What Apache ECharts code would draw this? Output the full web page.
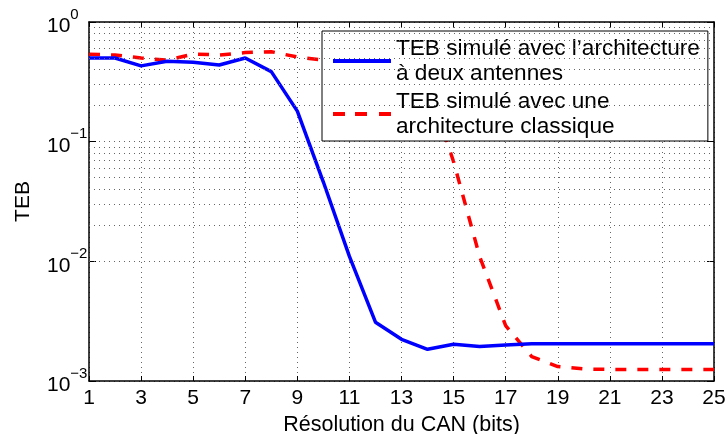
<!DOCTYPE html>
<html>
<head>
<meta charset="utf-8">
<script src="https://cdn.jsdelivr.net/npm/echarts@6/dist/echarts.min.js"></script>
<style>
  html, body { margin: 0; padding: 0; background: #fff; }
  #chart { width: 727px; height: 434px; }
</style>
</head>
<body>
<div id="chart"></div>
<script>
// ADC resolution (bits)
const resolution = [1, 2, 3, 4, 5, 6, 7, 8, 9, 10, 11, 12, 13, 14, 15, 16, 17, 18, 19, 20, 21, 22, 23, 24, 25];

// Simulated BER, two-antenna architecture
const tebDeuxAntennes = [0.50, 0.50, 0.43, 0.47, 0.46, 0.437, 0.50, 0.385, 0.18, 0.046, 0.011, 0.0031,
  0.00223, 0.00184, 0.00203, 0.00194, 0.0020, 0.00205, 0.00205, 0.00205, 0.00205, 0.00205, 0.00205, 0.00205, 0.00205];

// Simulated BER, classic architecture
const tebClassique = [0.537, 0.53, 0.50, 0.48, 0.54, 0.53, 0.555, 0.565, 0.51, 0.48, 0.47, 0.45,
  0.41, 0.31, 0.068, 0.011, 0.0029, 0.0016, 0.00132, 0.00126, 0.00125, 0.00125, 0.00125, 0.00125, 0.00125];

const seriesNames = ["TEB simulé avec l’architecture\nà deux antennes", "TEB simulé avec une\narchitecture classique"];

// Decade labels and intermediate (2..9) grid levels for the log axis
const decades = [0.001, 0.01, 0.1, 1];
const minorLevels = [];
for (let d = 0; d < decades.length - 1; d++) {
  for (let k = 2; k <= 9; k++) minorLevels.push(+(decades[d] * k).toPrecision(3));
}

const FONT = "Liberation Sans, Arial, sans-serif";
const dotted = { color: "#666", width: 1, type: [1, 4] };
const axisLine = { show: true, onZero: false, lineStyle: { color: "#000", width: 1.5 } };

// Legend keys: solid stroke and three-dash stroke
const solidKey = "path://M0,0H58V4H0Z";
const dashedKey = "path://M0,0H12V4H0Z M22,0H34V4H22Z M46,0H58V4H46Z";

const chart = echarts.init(document.getElementById("chart"), null, { renderer: "canvas" });

chart.setOption({
  animation: false,
  backgroundColor: "#fff",
  textStyle: { fontFamily: FONT, color: "#000" },
  grid: { left: 89, right: 13, top: 22, bottom: 53, containLabel: false, outerBoundsMode: "none" },
  legend: {
    data: [
      { name: seriesNames[0], icon: solidKey },
      { name: seriesNames[1], icon: dashedKey }
    ],
    orient: "vertical",
    left: 322,
    top: 31,
    padding: [5, 8, 2, 11],
    itemGap: 3,
    itemWidth: 58,
    itemHeight: 4,
    backgroundColor: "#fff",
    borderColor: "#000",
    borderWidth: 1,
    borderRadius: 0,
    textStyle: { fontFamily: FONT, fontSize: 22.6, color: "#000", lineHeight: 25 }
  },
  xAxis: [{
    type: "value",
    min: 1, max: 25, interval: 2,
    name: "Résolution du CAN (bits)",
    nameLocation: "middle",
    nameGap: 30,
    nameTextStyle: { fontFamily: FONT, fontSize: 21.5, color: "#000" },
    axisLine: axisLine,
    axisTick: { show: true, inside: true, length: 5, lineStyle: { color: "#000" } },
    axisLabel: { fontFamily: FONT, fontSize: 21, color: "#000", margin: 7 },
    splitLine: { show: true, lineStyle: dotted }
  }, {
    type: "value", position: "top",
    min: 1, max: 25, interval: 2,
    axisLine: axisLine,
    axisTick: { show: true, inside: true, length: 5, lineStyle: { color: "#000" } },
    axisLabel: { show: false },
    splitLine: { show: false }
  }],
  yAxis: [{
    type: "log", logBase: 10,
    min: 0.001, max: 1,
    name: "TEB",
    nameLocation: "middle",
    nameGap: 55,
    nameTextStyle: { fontFamily: FONT, fontSize: 21, color: "#000" },
    axisLine: axisLine,
    axisTick: { show: true, inside: true, length: 7, lineStyle: { color: "#000" } },
    axisLabel: {
      align: "left",
      margin: 42,
      formatter: function (v) {
        const e = Math.round(Math.log10(v));
        return "{b|10}{e|" + (e < 0 ? "\u2212" + (-e) : e) + "}";
      },
      rich: {
        b: { fontFamily: FONT, fontSize: 21, color: "#000", verticalAlign: "bottom", lineHeight: 30 },
        e: { fontFamily: FONT, fontSize: 15, color: "#000", verticalAlign: "top", lineHeight: 30 }
      }
    },
    splitLine: { show: true, lineStyle: dotted }
  }, {
    type: "log", logBase: 10, position: "right",
    min: 0.001, max: 1,
    axisLine: axisLine,
    axisTick: { show: true, inside: true, length: 7, lineStyle: { color: "#000" } },
    axisLabel: { show: false },
    splitLine: { show: false }
  }],
  series: [
    {
      name: "grille",
      type: "line",
      data: [],
      z: 1,
      silent: true,
      markLine: {
        silent: true,
        symbol: "none",
        label: { show: false },
        lineStyle: dotted,
        emphasis: { disabled: true },
        data: minorLevels.map(v => ({ yAxis: v }))
      }
    },
    {
      name: seriesNames[1],
      type: "line",
      z: 3,
      data: resolution.map((x, i) => [x, tebClassique[i]]),
      symbol: "none",
      lineStyle: { color: "#ff0000", width: 3.5, type: [11, 11] },
      itemStyle: { color: "#ff0000" }
    },
    {
      name: seriesNames[0],
      type: "line",
      z: 4,
      data: resolution.map((x, i) => [x, tebDeuxAntennes[i]]),
      symbol: "none",
      lineStyle: { color: "#0000ff", width: 3.5 },
      itemStyle: { color: "#0000ff" }
    }
  ]
});
</script>
</body>
</html>
